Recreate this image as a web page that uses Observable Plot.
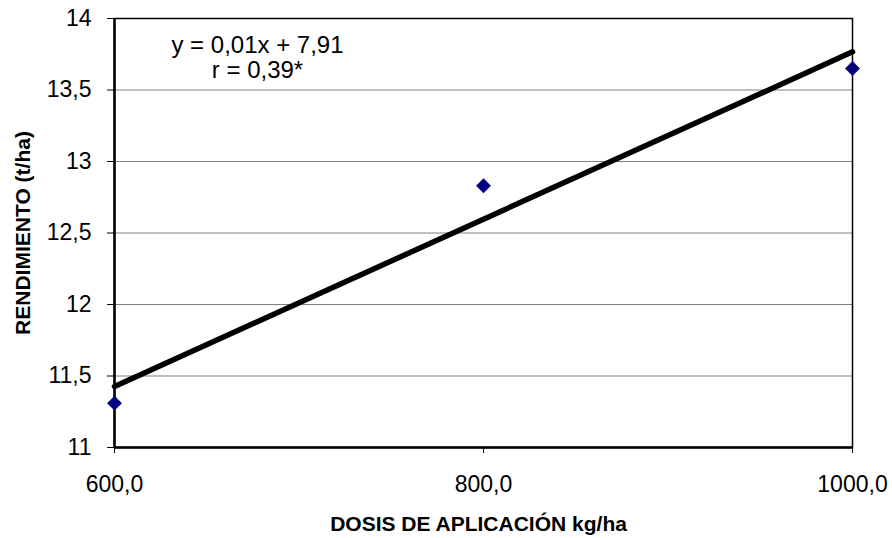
<!DOCTYPE html>
<html>
<head>
<meta charset="utf-8">
<script src="https://cdn.jsdelivr.net/npm/d3@7"></script>
<script src="https://cdn.jsdelivr.net/npm/@observablehq/plot@0.6"></script>
<style>
  html, body { margin: 0; padding: 0; background: #fff; }
  #chart svg { font-family: "Liberation Sans", Arial, sans-serif; }
</style>
</head>
<body>
<div id="chart"></div>
<script>
// Dosis de aplicación (kg/ha) y rendimiento medido (t/ha)
const dosis = [600, 800, 1000];
const rendimiento = [11.31, 12.83, 13.65];
const xTicks = [600, 800, 1000];
const yTicks = [11, 11.5, 12, 12.5, 13, 13.5, 14];
const ecuacion = ["y = 0,01x + 7,91", "r = 0,39*"];
const tituloX = "DOSIS DE APLICACIÓN kg/ha";
const tituloY = "RENDIMIENTO (t/ha)";

const data = dosis.map((d, i) => ({ dosis: d, rendimiento: rendimiento[i] }));
const coma = v => String(v).replace(".", ",");

const chart = Plot.plot({
  width: 892,
  height: 538,
  marginLeft: 114,
  marginRight: 40,
  marginTop: 18,
  marginBottom: 91,
  style: { color: "#000", background: "#fff" },
  x: { domain: [600, 1000] },
  y: { domain: [11, 14] },
  marks: [
    Plot.ruleY(yTicks, { stroke: "#808080", strokeWidth: 1 }),
    Plot.frame({ stroke: "#000", strokeWidth: 1.5 }),
    Plot.ruleX([600], { stroke: "#000", strokeWidth: 2.5 }),
    Plot.ruleY([11], { stroke: "#000", strokeWidth: 2.5 }),
    Plot.axisY(yTicks, {
      tickFormat: coma, tickSize: 7, tickPadding: 16, fontSize: 23, label: null
    }),
    Plot.axisX(xTicks, {
      tickFormat: v => v.toFixed(1).replace(".", ","), tickSize: 6, tickPadding: 22,
      fontSize: 23, label: null
    }),
    Plot.linearRegressionY(data, {
      x: "dosis", y: "rendimiento", ci: 0, stroke: "#000", strokeWidth: 5.5
    }),
    Plot.dot(data, {
      x: "dosis", y: "rendimiento", symbol: "diamond2", r: 6.7, fill: "#000080", stroke: "none"
    }),
    // ecuación de la recta y coeficiente de correlación
    Plot.text([ecuacion.join("\n")], {
      frameAnchor: "top-left", dx: 143, dy: 17, lineAnchor: "top", textAnchor: "middle",
      lineHeight: 1.04, fontSize: 24, fill: "#000", style: "word-spacing: 2px"
    }),
    // títulos de los ejes
    Plot.text([tituloX], {
      frameAnchor: "bottom", dx: -5, dy: 77, lineAnchor: "middle", textAnchor: "middle",
      fontSize: 21, fontWeight: "bold", fill: "#000"
    }),
    Plot.text([tituloY], {
      frameAnchor: "left", dx: -91, rotate: -90, lineAnchor: "middle", textAnchor: "middle",
      fontSize: 21, fontWeight: "bold", fill: "#000"
    })
  ]
});
document.getElementById("chart").append(chart);
</script>
</body>
</html>
